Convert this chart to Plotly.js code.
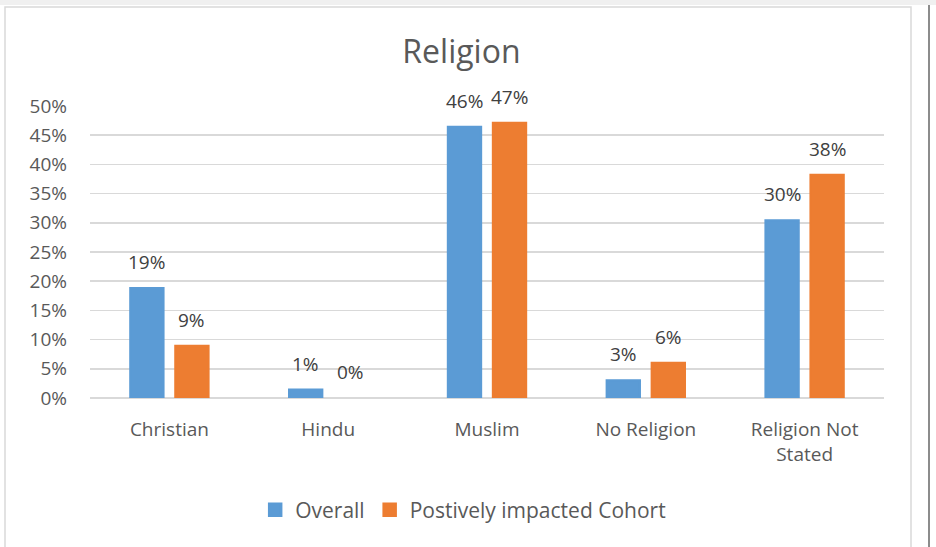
<!DOCTYPE html>
<html>
<head>
<meta charset="utf-8">
<script src="https://cdn.plot.ly/plotly-3.0.1.min.js"></script>
<style>html,body{margin:0;padding:0;background:#fff;}#chart{width:936px;height:547px;}</style>
</head>
<body>
<div id="chart"></div>
<script>
const categories = ["Christian", "Hindu", "Muslim", "No Religion", "Religion Not<br>Stated"];
const overall = [0.188, 0.014, 0.464, 0.030, 0.304];
const cohort = [0.089, 0.0, 0.471, 0.060, 0.382];
const seriesNames = ["Overall", "Postively impacted Cohort"];
const tickVals = [0, 0.05, 0.10, 0.15, 0.20, 0.25, 0.30, 0.35, 0.40, 0.45, 0.50];

const fontFam = "Open Sans, Noto Sans, sans-serif";
const txtCol = "#595959";
const colors = ["#5B9BD5", "#ED7D31"];

function lineWidths(vals){ return vals.map(v => v > 0 ? 2.5 : 0); }

const traces = [
  {type:"bar", name:seriesNames[0], x:categories, y:overall, marker:{color:colors[0], line:{color:colors[0], width:lineWidths(overall)}}, hoverinfo:"none"},
  {type:"bar", name:seriesNames[1], x:categories, y:cohort, marker:{color:colors[1], line:{color:colors[1], width:lineWidths(cohort)}}, hoverinfo:"none"}
];

const annotations = [];
[overall, cohort].forEach((vals, si) => {
  vals.forEach((v, i) => {
    annotations.push({x:categories[i], y:v, xref:"x", yref:"y", text:Math.round(v*100)+"%",
      showarrow:false, xanchor:"center", yanchor:"middle", xshift:(si===0?-22.5:22.5), yshift:26,
      font:{family:fontFam, size:19, color:"#404040"}});
  });
});

const pw = 936-90-52, ph = 547-106-149;
function px(x){return (x-90)/pw;}
function py(y){return (547-149-y)/ph;}

const layout = {
  width:936, height:547,
  margin:{l:90, r:52, t:106, b:149},
  paper_bgcolor:"#ffffff", plot_bgcolor:"#ffffff",
  title:{text:"Religion", font:{family:fontFam, size:32, color:txtCol}, x:0.493, xanchor:"center", y:0.905, yanchor:"middle"},
  barmode:"group", bargap:0.433, bargroupgap:0.27,
  xaxis:{type:"category", showgrid:false, showline:false, zeroline:false, ticks:"",
         tickfont:{family:fontFam, size:19, color:txtCol}, ticklabelstandoff:18, fixedrange:true},
  yaxis:{range:[0,0.5], tickvals:tickVals, tickformat:".0%", showgrid:true, gridcolor:"#d9d9d9", gridwidth:1.5,
         zeroline:true, zerolinecolor:"#d9d9d9", zerolinewidth:1.5, showline:false, ticks:"",
         tickfont:{family:fontFam, size:19, color:txtCol}, ticklabelstandoff:22, fixedrange:true},
  showlegend:true,
  legend:{orientation:"h", x:0.47, xanchor:"center", y:py(510), yanchor:"middle",
          font:{family:fontFam, size:21, color:txtCol}, itemwidth:30, traceorder:"normal"},
  annotations:annotations,
  shapes:[
    {type:"rect", xref:"paper", yref:"paper", x0:px(0), x1:px(936), y0:py(0), y1:py(5), fillcolor:"#f0f0f0", line:{width:0}, layer:"below"},
    {type:"rect", xref:"paper", yref:"paper", x0:px(5), x1:px(911), y0:py(7), y1:py(560), fillcolor:"rgba(0,0,0,0)", line:{color:"#d9d9d9", width:1.5}, layer:"below"},
    {type:"line", xref:"paper", yref:"paper", x0:px(929), x1:px(929), y0:py(5), y1:py(547), line:{color:"#8c8c8c", width:2}}
  ]
};

Plotly.newPlot("chart", traces, layout, {displayModeBar:false, staticPlot:true});
</script>
</body>
</html>
